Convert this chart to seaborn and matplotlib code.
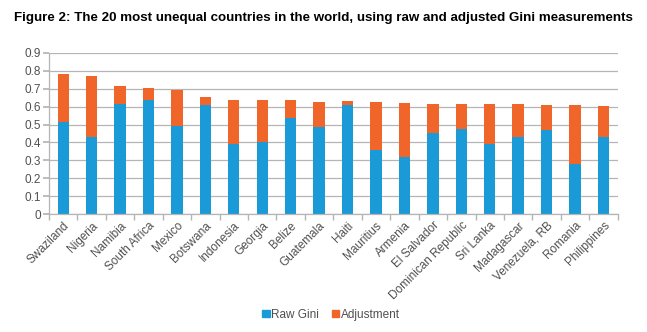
import matplotlib
matplotlib.use("Agg")
import matplotlib.pyplot as plt
import seaborn as sns
import numpy as np
import pandas as pd
from matplotlib.patches import Patch

countries = ["Swaziland", "Nigeria", "Namibia", "South Africa", "Mexico", "Botswana",
             "Indonesia", "Georgia", "Belize", "Guatemala", "Haiti", "Mauritius",
             "Armenia", "El Salvador", "Dominican Republic", "Sri Lanka", "Madagascar",
             "Venezuela, RB", "Romania", "Philippines"]
raw_gini = [0.515, 0.430, 0.612, 0.634, 0.490, 0.606, 0.394, 0.401, 0.537, 0.487,
            0.610, 0.359, 0.318, 0.455, 0.474, 0.394, 0.428, 0.470, 0.277, 0.430]
adjusted_gini = [0.780, 0.768, 0.717, 0.706, 0.690, 0.656, 0.639, 0.639, 0.636, 0.628,
                 0.630, 0.625, 0.619, 0.615, 0.612, 0.612, 0.612, 0.608, 0.608, 0.602]
adjustment = [a - r for a, r in zip(adjusted_gini, raw_gini)]
y_ticks = [0, 0.1, 0.2, 0.3, 0.4, 0.5, 0.6, 0.7, 0.8, 0.9]

df = pd.DataFrame({"Country": countries, "Raw Gini": raw_gini, "Adjustment": adjustment})

BLUE = "#1A9AD6"
ORANGE = "#F0652A"
GRID = "#B5B5B5"
TXT = "#505050"

sns.set_theme(style="white")
plt.rcParams['font.family'] = ['Liberation Sans', 'DejaVu Sans']

fig = plt.figure(figsize=(6.47, 3.32), dpi=100)
ax = fig.add_axes([0.0757, 0.355, 0.879, 0.486])

sns.barplot(data=df, x="Country", y="Raw Gini", color=BLUE, width=0.4,
            saturation=1, ax=ax, linewidth=0)
sns.barplot(data=df, x="Country", y="Adjustment", bottom=df["Raw Gini"], color=ORANGE,
            width=0.4, saturation=1, ax=ax, linewidth=0)

ax.set_ylim(0, 0.9)
ax.set_xlim(-0.5, len(countries) - 0.5)
ax.set_yticks(y_ticks)
ax.set_yticklabels([f"{v:g}" for v in y_ticks], fontsize=8.5, color=TXT)
ax.yaxis.grid(True, color=GRID, linewidth=0.9)
ax.set_axisbelow(True)
ax.set_xlabel("")
ax.set_ylabel("")

ax.set_xticks(range(len(countries)))
ax.set_xticklabels(countries, rotation=45, ha="right", rotation_mode="anchor",
                   fontsize=8.5, color=TXT)
ax.set_xticks(np.arange(-0.5, len(countries), 1.0), minor=True)
ax.tick_params(axis="x", which="major", length=0, pad=4)
ax.tick_params(axis="x", which="minor", length=4, color=GRID, direction="out", bottom=True)
ax.tick_params(axis="y", length=4, color=GRID, direction="out", left=True, pad=2)

for s in ["top", "right"]:
    ax.spines[s].set_visible(False)
for s in ["left", "bottom"]:
    ax.spines[s].set_color(GRID)
    ax.spines[s].set_linewidth(0.9)

handles = [Patch(color=BLUE, label="Raw Gini"), Patch(color=ORANGE, label="Adjustment")]
fig.legend(handles=handles, loc="center", bbox_to_anchor=(0.512, 0.052), ncol=2,
           frameon=False, fontsize=8.5, handlelength=0.6, handleheight=0.6,
           handletextpad=0.15, columnspacing=1.1, labelcolor=TXT)

fig.text(0.5, 0.945, "Figure 2: The 20 most unequal countries in the world, using raw and adjusted Gini measurements",
         ha="center", va="center", fontsize=9.6, fontweight="bold", color="black")

fig.savefig("out.png", dpi=100, facecolor="white")
